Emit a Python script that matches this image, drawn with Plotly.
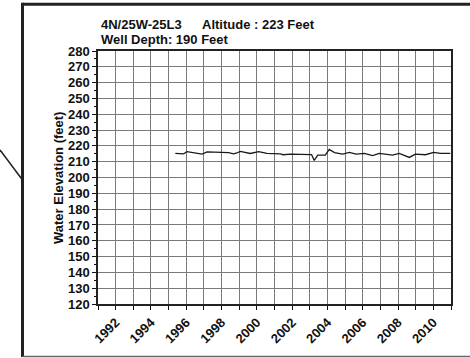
import plotly.graph_objects as go

# Well 4N/25W-25L3 hydrograph: decimal year vs. water elevation (feet)
years = [1995.38, 1995.85, 1996.04, 1996.42, 1996.90, 1997.18, 1997.55, 1998.03,
         1998.40, 1998.68, 1998.87, 1999.06, 1999.63, 2000.10, 2000.57, 2001.33,
         2001.50, 2001.90, 2002.93, 2003.10, 2003.25, 2003.45, 2003.88, 2004.10,
         2004.40, 2004.86, 2005.24, 2005.62, 2006.09, 2006.56, 2006.94, 2007.32,
         2007.69, 2008.07, 2008.64, 2008.98, 2009.55, 2010.02, 2010.40, 2010.96]
elevation = [215.3, 215.0, 216.4, 215.6, 214.8, 216.2, 216.0, 215.5,
             215.7, 215.0, 215.5, 216.5, 215.2, 216.4, 215.3, 215.0,
             214.4, 214.8, 214.6, 214.5, 210.8, 214.2, 214.2, 217.8,
             215.7, 214.8, 215.9, 214.8, 215.3, 213.8, 215.3, 214.8,
             214.2, 215.3, 212.7, 214.8, 214.4, 215.9, 215.3, 215.3]

year_ticks = list(range(1991, 2012))
year_labels = [str(y) if y % 2 == 0 else "" for y in year_ticks]
y_ticks = list(range(120, 290, 10))

FONT = "Liberation Sans, Arial, sans-serif"
W, H = 470, 358
ML, MR, MT, MB = 98, 19, 51, 54
PW, PH = W - ML - MR, H - MT - MB


def px_x(px):
    return (px - ML) / PW


def px_y(py):
    return (H - MB - py) / PH


fig = go.Figure()
fig.add_trace(go.Scatter(
    x=years, y=elevation, mode="lines",
    line=dict(color="#1a1a1a", width=1.3),
    hoverinfo="skip", showlegend=False,
))

grid_color = "#7a7a7a"
fig.update_xaxes(
    range=[1991, 2011], tickmode="array", tickvals=year_ticks, ticktext=year_labels,
    tickangle=-45, ticks="outside", ticklen=4, tickcolor="#111", tickwidth=1,
    tickfont=dict(family=FONT, size=13, color="#111", weight="bold"),
    showgrid=True, gridcolor=grid_color, gridwidth=1.3,
    showline=True, linecolor="#222", linewidth=1.5, mirror=True, zeroline=False,
)
fig.update_yaxes(
    range=[120, 280], tickmode="array", tickvals=y_ticks,
    ticks="outside", ticklen=4, tickcolor="#111", tickwidth=1,
    tickfont=dict(family=FONT, size=13, color="#111", weight="bold"),
    minor=dict(dtick=5, tick0=120, ticks="outside", ticklen=2, tickcolor="#111", showgrid=False),
    showgrid=True, gridcolor=grid_color, gridwidth=1.3,
    showline=True, linecolor="#222", linewidth=1.5, mirror=True, zeroline=False,
)

title_font = dict(family=FONT, size=13, color="#111", weight="bold")
annotations = [
    dict(text="4N/25W-25L3", x=px_x(99), y=px_y(25), xanchor="left", yanchor="middle"),
    dict(text="Altitude : 223 Feet", x=px_x(200), y=px_y(25), xanchor="left", yanchor="middle"),
    dict(text="Well Depth: 190 Feet", x=px_x(99), y=px_y(39.7), xanchor="left", yanchor="middle"),
    dict(text="Water Elevation (feet)", x=px_x(58), y=px_y(178), xanchor="center",
         yanchor="middle", textangle=-90),
]
for a in annotations:
    a.update(xref="paper", yref="paper", showarrow=False, font=title_font)

# Page frame and leader line
shapes = [
    dict(type="line", x0=px_x(22.5), x1=px_x(472), y0=px_y(4.2), y1=px_y(4.2),
         line=dict(color="#222", width=3)),
    dict(type="line", x0=px_x(22.5), x1=px_x(22.5), y0=px_y(2.7), y1=px_y(357),
         line=dict(color="#222", width=3)),
    dict(type="line", x0=px_x(22.5), x1=px_x(472), y0=px_y(356.5), y1=px_y(356.5),
         line=dict(color="#666", width=1.5)),
    dict(type="line", x0=px_x(0), x1=px_x(22.5), y0=px_y(150), y1=px_y(180),
         line=dict(color="#222", width=1.5)),
]
for s in shapes:
    s.update(xref="paper", yref="paper")

fig.update_layout(
    width=W, height=H, autosize=False,
    margin=dict(l=ML, r=MR, t=MT, b=MB, pad=0),
    paper_bgcolor="white", plot_bgcolor="white",
    annotations=annotations, shapes=shapes,
    font=dict(family=FONT),
)

fig.write_html("out.html", config={"displayModeBar": False})
